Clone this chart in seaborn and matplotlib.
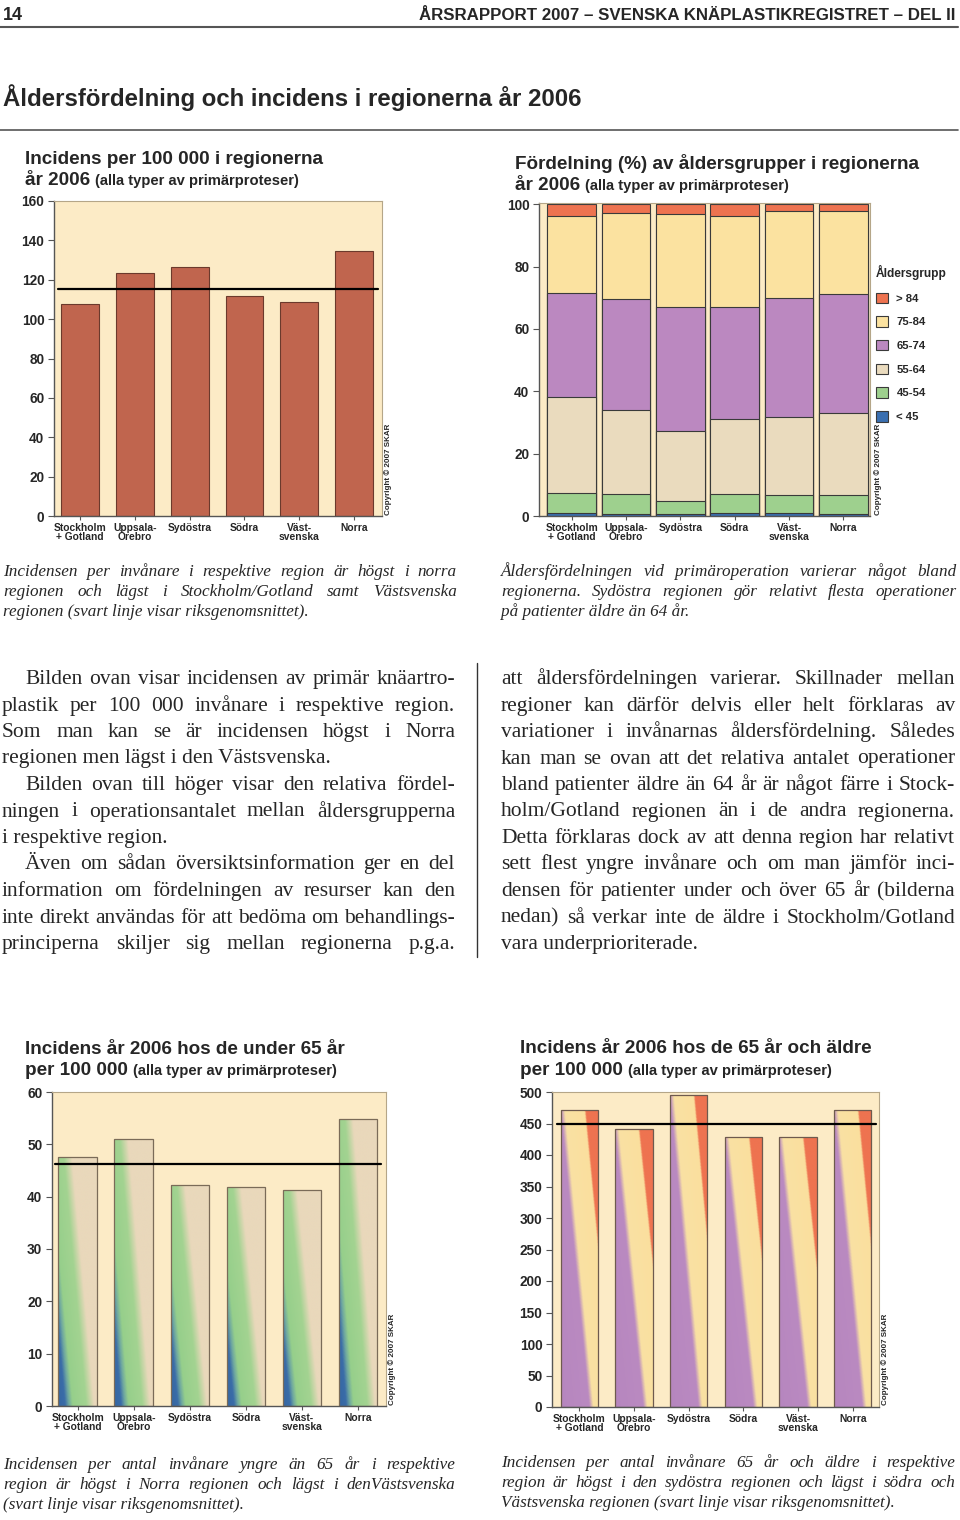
import numpy as np
import pandas as pd
import seaborn as sns
import matplotlib.pyplot as plt
from matplotlib import font_manager
from matplotlib.colors import LinearSegmentedColormap
from matplotlib.lines import Line2D

# Regioner (x-axel i alla fyra diagram)
regioner = ["Stockholm\n+ Gotland", "Uppsala-\nÖrebro", "Sydöstra", "Södra", "Väst-\nsvenska", "Norra"]

# Incidens per 100 000, alla åldrar
incidens_alla = [107.5, 123.5, 126.5, 111.5, 108.5, 134.5]
riks_alla = 115.5

# Fördelning (%) av åldersgrupper
aldersgrupper = ["> 84", "75-84", "65-74", "55-64", "45-54", "< 45"]
andel_over84 = [3.7, 2.7, 3.0, 3.9, 2.1, 2.1]
andel_75_84 = [24.7, 27.8, 29.8, 29.1, 28.1, 26.6]
andel_65_74 = [33.5, 35.5, 39.9, 35.9, 37.9, 38.3]
andel_55_64 = [30.7, 27.1, 22.4, 24.2, 25.3, 26.4]
andel_45_54 = [6.4, 6.3, 4.4, 6.0, 5.6, 6.0]
andel_under45 = [1.0, 0.6, 0.5, 0.9, 1.0, 0.6]

# Incidens under 65 år resp. 65 år och äldre
incidens_under65 = [47.5, 51.1, 42.2, 41.8, 41.3, 54.8]
riks_under65 = 46.2
incidens_65plus = [472, 441, 496, 429, 429, 472]
riks_65plus = 449

W, H = 960, 1520
sns.set_style("ticks")
plt.rcParams["font.family"] = ["Liberation Sans", "DejaVu Sans"]
installed = {f.name for f in font_manager.fontManager.ttflist}
NARROW = ["Liberation Sans Narrow"] if "Liberation Sans Narrow" in installed else ["Liberation Sans"]
SERIF = ["Liberation Serif", "DejaVu Serif"]

BG = "#FCEBC6"
fig = plt.figure(figsize=(W / 100, H / 100), dpi=100)
fig.patch.set_facecolor("white")
renderer = fig.canvas.get_renderer()


def fy(y):
    return 1 - y / H


def add_ax(x0, y0, x1, y1):
    return fig.add_axes([x0 / W, fy(y1), (x1 - x0) / W, (y1 - y0) / H])


def style_ax(ax, yticks, ylim, xlim):
    ax.set_facecolor(BG)
    ax.set_xlim(*xlim)
    ax.set_ylim(*ylim)
    ax.set_xlabel("")
    ax.set_ylabel("")
    for s in ["top", "right"]:
        ax.spines[s].set_color("#B5A688")
        ax.spines[s].set_linewidth(0.8)
    for s in ["left", "bottom"]:
        ax.spines[s].set_color("#555555")
        ax.spines[s].set_linewidth(1.0)
    ax.set_yticks(yticks)
    ax.set_yticklabels([str(v) for v in yticks], fontweight="bold")
    ax.set_xticks(range(len(regioner)))
    ax.set_xticklabels(regioner, fontweight="bold", linespacing=0.85)
    ax.tick_params(axis="y", labelsize=9.8, length=4, width=0.8, pad=3, color="#555555")
    ax.tick_params(axis="x", labelsize=7.4, length=3, width=0.8, pad=2, color="#555555")


def mean_line(ax, value, a, b):
    ax.plot([a, b], [value, value], color="black", lw=1.6, transform=ax.get_yaxis_transform(), zorder=3)


def gradient_bars(ax, cmap, slope):
    xx, yy = np.meshgrid(np.linspace(0, 1, 120), np.linspace(0, 1, 300))
    t = xx - slope * (1 - yy)
    for bar in list(ax.patches):
        x0, y0, w, h = bar.get_x(), bar.get_y(), bar.get_width(), bar.get_height()
        im = ax.imshow(t, extent=[x0, x0 + w, y0, y0 + h], origin="lower", cmap=cmap,
                       vmin=-1, vmax=1, aspect="auto", interpolation="bilinear", zorder=0.9)
        im.set_clip_path(bar)
        bar.set_facecolor("none")
        bar.set_zorder(1)


def cmap_from(stops):
    return LinearSegmentedColormap.from_list("g", [((t + 1) / 2, c) for t, c in stops])


def copyright(x, y):
    fig.text(x / W, fy(y), "Copyright © 2007 SKAR", rotation=90, ha="center", va="bottom",
             fontsize=5.8, fontweight="bold")


def title_line(x, y, parts):
    for text, size in parts:
        t = fig.text(x / W, fy(y), text, fontsize=size, fontweight="bold", va="baseline")
        x += t.get_window_extent(renderer).width + 5


def text_line(x0, x1, y, line, size, style="normal", justify=True):
    kw = dict(fontsize=size, fontstyle=style, family=SERIF, va="baseline")
    words = line.split()
    if not justify or len(words) < 2:
        fig.text(x0 / W, fy(y), line, **kw)
        return
    objs = [fig.text(0, fy(y), w, **kw) for w in words]
    widths = [o.get_window_extent(renderer).width for o in objs]
    gap = (x1 - x0 - sum(widths)) / (len(words) - 1)
    x = x0
    for o, w in zip(objs, widths):
        o.set_x(x / W)
        x += w + gap


# ---- Sidhuvud ----
fig.text(3 / W, fy(20), "14", fontsize=13, fontweight="bold", family=NARROW, va="baseline")
fig.text(955 / W, fy(20), "ÅRSRAPPORT 2007 – SVENSKA KNÄPLASTIKREGISTRET – DEL II", ha="right",
         fontsize=12.2, fontweight="bold", family=NARROW, va="baseline")
fig.add_artist(Line2D([0, 958 / W], [fy(27), fy(27)], color="#555555", lw=1.5))
fig.text(3 / W, fy(106), "Åldersfördelning och incidens i regionerna år 2006", fontsize=17.3,
         fontweight="bold", family=NARROW, va="baseline")
fig.add_artist(Line2D([0, 958 / W], [fy(130), fy(130)], color="#555555", lw=1.2))

# ---- Diagram 1: incidens alla åldrar ----
df1 = pd.DataFrame({"region": regioner, "incidens": incidens_alla})
ax1 = add_ax(54, 201, 382, 516)
sns.barplot(data=df1, x="region", y="incidens", color="#C0654E", width=0.69, saturation=1,
            edgecolor="#6B3A2C", linewidth=0.8, errorbar=None, ax=ax1)
style_ax(ax1, range(0, 161, 20), (0, 160), (-0.475, 5.51))
mean_line(ax1, riks_alla, 0.012, 0.988)
title_line(25, 164, [("Incidens per 100 000 i regionerna", 13.6)])
title_line(25, 185, [("år 2006", 13.6), ("(alla typer av primärproteser)", 10.6)])
copyright(388, 515)

# ---- Diagram 2: åldersfördelning (staplade) ----
andelar = {"> 84": andel_over84, "75-84": andel_75_84, "65-74": andel_65_74,
           "55-64": andel_55_64, "45-54": andel_45_54, "< 45": andel_under45}
farger = {"> 84": "#EE7350", "75-84": "#FBE2A0", "65-74": "#BB88C0",
          "55-64": "#EADBBE", "45-54": "#9ED08E", "< 45": "#3A6FB0"}
ax2 = add_ax(539, 203, 870, 516)
for i, grupp in enumerate(aldersgrupper):
    topp = np.sum([andelar[g] for g in aldersgrupper[i:]], axis=0)
    d = pd.DataFrame({"region": regioner, "andel": topp})
    sns.barplot(data=d, x="region", y="andel", color=farger[grupp], width=0.9, saturation=1,
                edgecolor="#3A3A3A", linewidth=0.8, errorbar=None, label=grupp, ax=ax2)
style_ax(ax2, range(0, 101, 20), (0, 100.4), (-0.6, 5.49))
ax2.legend(loc="upper left", bbox_to_anchor=(876 / W, fy(265)), bbox_transform=fig.transFigure,
           frameon=False, title="Åldersgrupp", title_fontproperties={"weight": "bold", "size": 8.6},
           prop={"weight": "bold", "size": 8.2}, handlelength=1.05, handleheight=1.05,
           handletextpad=0.75, labelspacing=1.1, alignment="left", borderaxespad=0, borderpad=0)
title_line(515, 169, [("Fördelning (%) av åldersgrupper i regionerna", 13.6)])
title_line(515, 190, [("år 2006", 13.6), ("(alla typer av primärproteser)", 10.6)])
copyright(878, 515)

# ---- Diagram 3: under 65 år ----
df3 = pd.DataFrame({"region": regioner, "incidens": incidens_under65})
ax3 = add_ax(52, 1092, 386, 1406)
sns.barplot(data=df3, x="region", y="incidens", color="#A3D391", width=0.69, saturation=1,
            edgecolor="#7A6B58", linewidth=0.9, errorbar=None, ax=ax3)
gradient_bars(ax3, cmap_from([(-1, "#2A5A94"), (-0.4, "#3A6CA8"), (-0.3, "#6FA8A0"),
                              (-0.2, "#96CF8B"), (0.15, "#A3D391"), (0.36, "#E9D8BB"),
                              (1, "#E9D8BB")]), 0.58)
style_ax(ax3, range(0, 61, 10), (0, 60), (-0.46, 5.5))
mean_line(ax3, riks_under65, 0.01, 0.985)
title_line(25, 1054, [("Incidens år 2006 hos de under 65 år", 13.6)])
title_line(25, 1075, [("per 100 000", 13.6), ("(alla typer av primärproteser)", 10.6)])
copyright(392, 1405)

# ---- Diagram 4: 65 år och äldre ----
df4 = pd.DataFrame({"region": regioner, "incidens": incidens_65plus})
ax4 = add_ax(552, 1092, 879, 1407)
sns.barplot(data=df4, x="region", y="incidens", color="#FBE0A0", width=0.68, saturation=1,
            edgecolor="#6E5A4E", linewidth=0.9, errorbar=None, ax=ax4)
gradient_bars(ax4, cmap_from([(-1, "#B585BE"), (-0.01, "#BA8AC1"), (0.1, "#F9E1A3"),
                              (0.62, "#FBDF9E"), (0.66, "#EE7350"), (1, "#EE7350")]), 0.76)
style_ax(ax4, range(0, 501, 50), (0, 500), (-0.5, 5.48))
mean_line(ax4, riks_65plus, 0.015, 0.99)
title_line(520, 1053, [("Incidens år 2006 hos de 65 år och äldre", 13.6)])
title_line(520, 1075, [("per 100 000", 13.6), ("(alla typer av primärproteser)", 10.6)])
copyright(885, 1405)

# ---- Bildtexter (kursiv) ----
cap_tl = ["Incidensen per invånare i respektive region är högst i norra",
          "regionen och lägst i Stockholm/Gotland samt Västsvenska",
          "regionen (svart linje visar riksgenomsnittet)."]
cap_tr = ["Åldersfördelningen vid primäroperation varierar något bland",
          "regionerna. Sydöstra regionen gör relativt flesta operationer",
          "på patienter äldre än 64 år."]
cap_bl = ["Incidensen per antal invånare yngre än 65 år i respektive",
          "region är högst i Norra regionen och lägst i  denVästsvenska",
          "(svart linje visar riksgenomsnittet)."]
cap_br = ["Incidensen per antal invånare 65 år och äldre i respektive",
          "region är högst i  den sydöstra regionen och lägst i södra och",
          "Västsvenska regionen (svart linje visar riksgenomsnittet)."]
for lines, x0, x1, y0 in [(cap_tl, 3, 457, 576), (cap_tr, 501, 957, 576),
                          (cap_bl, 3, 455, 1469), (cap_br, 501, 955, 1467)]:
    for i, line in enumerate(lines):
        text_line(x0, x1, y0 + 20 * i, line, 12.3, style="italic", justify=i < 2)

# ---- Brödtext ----
body_left = [("Bilden ovan visar incidensen av primär knäartro-", True, True),
             ("plastik per 100 000 invånare i respektive region.", True, False),
             ("Som man kan se är incidensen högst i Norra", True, False),
             ("regionen men lägst i den Västsvenska.", False, False),
             ("Bilden ovan till höger visar den relativa fördel-", True, True),
             ("ningen i operationsantalet mellan åldersgrupperna", True, False),
             ("i respektive region.", False, False),
             ("Även om sådan översiktsinformation ger en del", True, True),
             ("information om fördelningen av resurser kan den", True, False),
             ("inte direkt användas för att bedöma om behandlings-", True, False),
             ("principerna skiljer sig mellan regionerna p.g.a.", True, False)]
body_right = [("att åldersfördelningen varierar. Skillnader mellan", True, False),
              ("regioner kan därför delvis eller helt förklaras av", True, False),
              ("variationer i invånarnas åldersfördelning. Således", True, False),
              ("kan man se ovan att det relativa antalet operationer", True, False),
              ("bland patienter äldre än 64 år är något färre i Stock-", True, False),
              ("holm/Gotland regionen än i de andra regionerna.", True, False),
              ("Detta förklaras dock av att denna region har relativt", True, False),
              ("sett flest yngre invånare och om man jämför inci-", True, False),
              ("densen för patienter under och över 65 år (bilderna", True, False),
              ("nedan) så verkar inte de äldre i Stockholm/Gotland", True, False),
              ("vara underprioriterade.", False, False)]
for lines, x0, x1 in [(body_left, 2, 455), (body_right, 501, 955)]:
    for i, (line, just, indent) in enumerate(lines):
        text_line(x0 + (23 if indent else 0), x1, 684 + 26.5 * i, line, 15.5, justify=just)

fig.add_artist(Line2D([477 / W, 477 / W], [fy(663), fy(957)], color="#333333", lw=1.0))

plt.savefig("out.png", dpi=100)
